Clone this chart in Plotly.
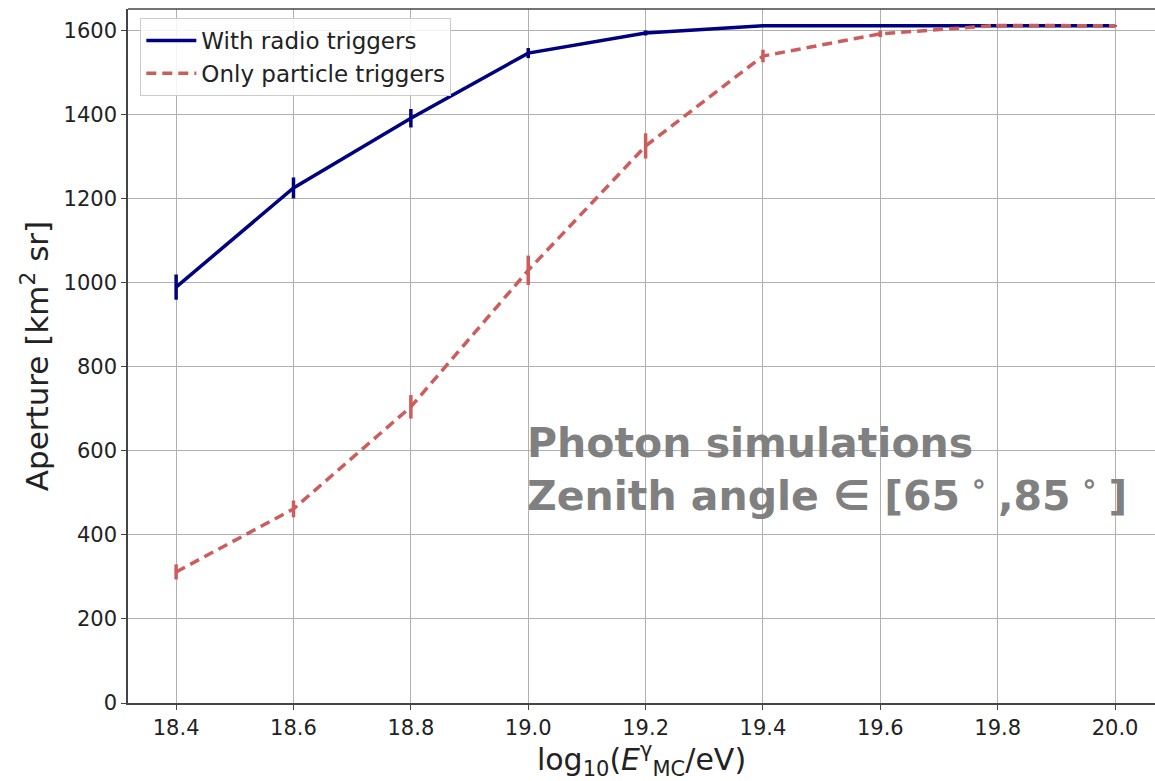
import plotly.graph_objects as go

energy = [18.4, 18.6, 18.8, 19.0, 19.2, 19.4, 19.6, 19.8, 20.0]
radio = [990, 1226, 1392, 1547, 1595, 1612, 1612, 1612, 1612]
radio_err = [30, 25, 22, 12, 6, 3, 2, 2, 2]
particle = [312, 462, 705, 1030, 1326, 1540, 1593, 1613, 1612]
particle_err = [18, 20, 28, 35, 30, 15, 8, 3, 2]

x_ticks = [18.4, 18.6, 18.8, 19.0, 19.2, 19.4, 19.6, 19.8, 20.0]
y_ticks = [0, 200, 400, 600, 800, 1000, 1200, 1400, 1600]

blue = "#000080"
red = "#CD5C5C"
font = "DejaVu Sans"

fig = go.Figure()
fig.add_trace(go.Scatter(
    x=energy, y=radio, mode="lines", name="With radio triggers",
    line=dict(color=blue, width=3.5),
    error_y=dict(type="data", array=radio_err, color=blue, thickness=3.5, width=0),
))
fig.add_trace(go.Scatter(
    x=energy, y=particle, mode="lines", name="Only particle triggers",
    line=dict(color=red, width=3.5, dash="10px,6px"),
    error_y=dict(type="data", array=particle_err, color=red, thickness=3.5, width=0),
))

fig.add_annotation(
    x=0.387, y=0.412, xref="paper", yref="paper", xanchor="left", yanchor="top",
    text="<b>Photon simulations<br>Zenith angle ∈ [65<sup> ∘ </sup>,85<sup> ∘ </sup>]</b>",
    showarrow=False, align="left",
    font=dict(family=font, size=41, color="#808080"),
)

fig.add_shape(type="line", xref="paper", yref="paper", x0=0, x1=1, y0=1, y1=1,
              line=dict(color="#444444", width=1.5))

fig.update_layout(
    width=1155, height=781,
    margin=dict(l=128, r=0, t=9, b=78),
    paper_bgcolor="white", plot_bgcolor="white",
    font=dict(family=font, color="#222222"),
    showlegend=True,
    legend=dict(x=0.012, y=0.987, xanchor="left", yanchor="top",
                bgcolor="rgba(255,255,255,0.85)", bordercolor="#cccccc", borderwidth=1,
                itemwidth=50,
                font=dict(family=font, size=23, color="#222222")),
    xaxis=dict(
        range=[18.318, 20.068], tickvals=x_ticks, ticktext=[f"{v:.1f}" for v in x_ticks],
        showgrid=True, gridcolor="#b0b0b0", gridwidth=1,
        showline=True, linecolor="#444444", linewidth=1.5,
        ticks="outside", ticklen=5, tickcolor="#444444",
        tickfont=dict(family=font, size=21, color="#222222"),
        title=dict(text="log<sub>10</sub>(<i>E</i><sup>γ</sup><sub>MC</sub>/eV)",
                   font=dict(family=font, size=30, color="#222222"), standoff=10),
        zeroline=False,
    ),
    yaxis=dict(
        range=[0, 1652], tickvals=y_ticks,
        showgrid=True, gridcolor="#b0b0b0", gridwidth=1,
        showline=True, linecolor="#444444", linewidth=1.5,
        ticks="outside", ticklen=5, tickcolor="#444444",
        tickfont=dict(family=font, size=21, color="#222222"),
        title=dict(text="Aperture [km<sup>2</sup> sr]",
                   font=dict(family=font, size=31, color="#222222"), standoff=6),
        zeroline=False,
    ),
)

fig.write_html("out.html")
